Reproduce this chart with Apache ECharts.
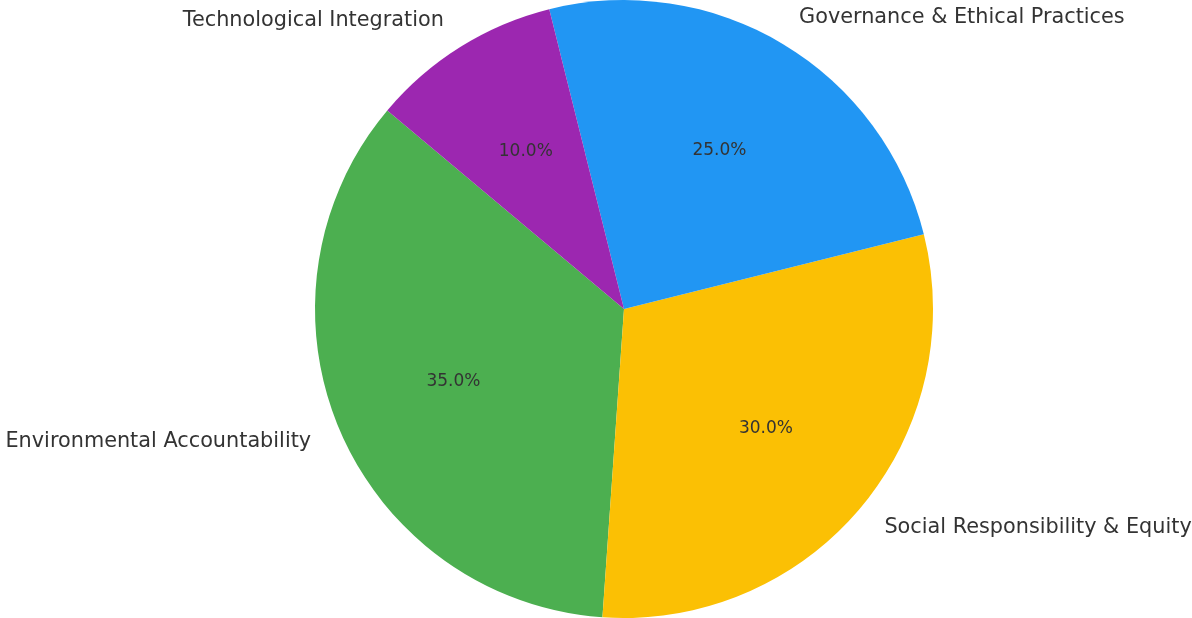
<!DOCTYPE html>
<html>
<head>
<meta charset="utf-8">
<script src="https://cdn.jsdelivr.net/npm/echarts@6/dist/echarts.min.js"></script>
<style>
html,body{margin:0;padding:0;background:#fff;}
#chart{width:1192px;height:618px;}
</style>
</head>
<body>
<div id="chart"></div>
<script>
const categories = ['Environmental Accountability', 'Social Responsibility & Equity', 'Governance & Ethical Practices', 'Technological Integration'];
const values = [35, 30, 25, 10];
const colors = ['#4CAF50', '#FBC004', '#2196F3', '#9C27B0'];

const R = 309;
const total = values.reduce((a, b) => a + b, 0);
const pieData = categories.map((c, i) => ({ name: c, value: values[i], itemStyle: { color: colors[i] } }));
const pctData = categories.map((c, i) => ({ name: c, value: values[i], itemStyle: { color: 'rgba(0,0,0,0)' } }));

const chart = echarts.init(document.getElementById('chart'), null, { renderer: 'canvas' });
chart.setOption({
  animation: false,
  backgroundColor: '#fff',
  series: [
    {
      type: 'pie',
      center: [624, 309],
      radius: [0, R],
      startAngle: 140,
      clockwise: false,
      avoidLabelOverlap: false,
      silent: true,
      data: pieData,
      label: {
        show: true,
        position: 'outside',
        formatter: '{b}',
        fontFamily: 'DejaVu Sans',
        fontSize: 20.8,
        color: '#333',
        distanceToLabelLine: 0
      },
      labelLine: { show: false, length: R * 0.1, length2: 0 },
      emphasis: { disabled: true }
    },
    {
      type: 'pie',
      center: [624, 309],
      radius: [0, R * 1.18],
      startAngle: 140,
      clockwise: false,
      avoidLabelOverlap: false,
      silent: true,
      data: pctData,
      label: {
        show: true,
        position: 'inside',
        formatter: (p) => (p.value / total * 100).toFixed(1) + '%',
        fontFamily: 'DejaVu Sans',
        fontSize: 17,
        color: '#333'
      },
      labelLine: { show: false },
      emphasis: { disabled: true }
    }
  ]
});
</script>
</body>
</html>
